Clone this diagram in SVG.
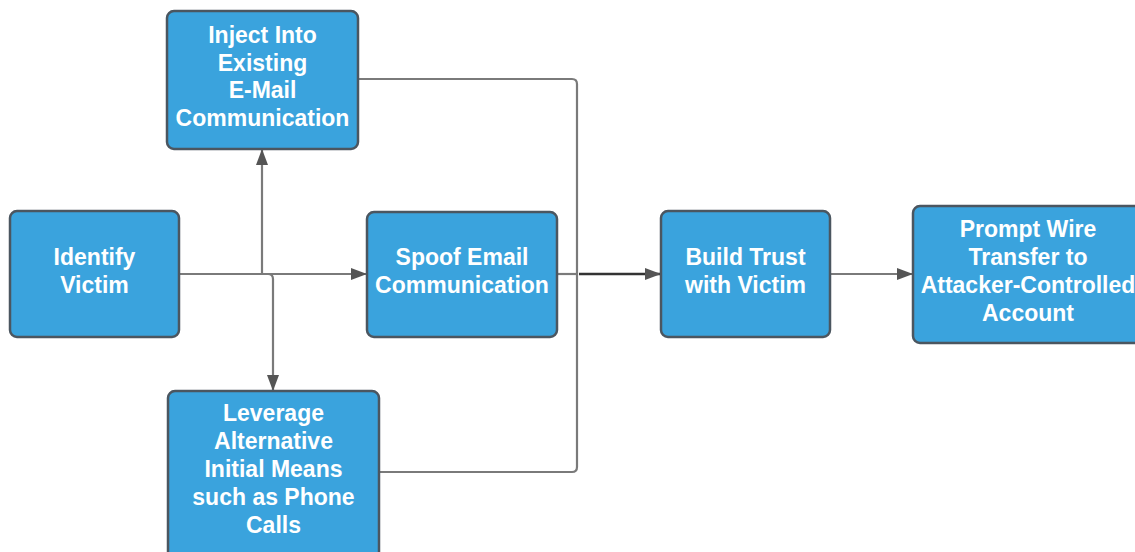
<svg xmlns="http://www.w3.org/2000/svg" width="1135" height="552" viewBox="0 0 1135 552">
<defs>
<style>
.box{fill:#3aa3dd;stroke:#4b5660;stroke-width:2.5}
.t{font-family:"Liberation Sans",Arial,sans-serif;font-weight:bold;font-size:23px;fill:#ffffff;text-anchor:middle}
.c{fill:none;stroke:#7a7a7a;stroke-width:2.2}
.cd{fill:none;stroke:#333333;stroke-width:2.6}
</style>
<marker id="ahL" viewBox="0 0 10 10" refX="10" refY="5" markerWidth="16" markerHeight="12" markerUnits="userSpaceOnUse" orient="auto" preserveAspectRatio="none">
<path d="M0,0 L10,5 L0,10 z" fill="#555555"/>
</marker>
</defs>
<rect width="1135" height="552" fill="#ffffff"/>
<g id="connectors">
<path class="c" d="M179,274 H367" marker-end="url(#ahL)"/>
<path class="c" d="M262,274 V149" marker-end="url(#ahL)"/>
<path class="c" d="M262,274 H268 Q273,274 273,279 V391" marker-end="url(#ahL)"/>
<path class="c" d="M358,79 H572 Q577,79 577,84 V467 Q577,472 572,472 H379"/>
<path class="c" d="M557,274 H577"/>
<path class="cd" d="M579,274 H661" marker-end="url(#ahL)"/>
<path class="c" d="M830,274 H913" marker-end="url(#ahL)"/>
</g>
<g id="identify">
<rect class="box" x="10" y="211" width="169" height="126" rx="7"/>
<text class="t" x="94.5" y="265">Identify</text>
<text class="t" x="94.5" y="293">Victim</text>
</g>
<g id="inject">
<rect class="box" x="167" y="11" width="191" height="138" rx="7"/>
<text class="t" x="262.5" y="43">Inject Into</text>
<text class="t" x="262.5" y="71">Existing</text>
<text class="t" x="262.5" y="98">E-Mail</text>
<text class="t" x="262.5" y="126">Communication</text>
</g>
<g id="spoof">
<rect class="box" x="367" y="212" width="190" height="125" rx="7"/>
<text class="t" x="462" y="265">Spoof Email</text>
<text class="t" x="462" y="293">Communication</text>
</g>
<g id="leverage">
<rect class="box" x="168" y="391" width="211" height="175" rx="7"/>
<text class="t" x="273.5" y="421">Leverage</text>
<text class="t" x="273.5" y="449">Alternative</text>
<text class="t" x="273.5" y="477">Initial Means</text>
<text class="t" x="273.5" y="505">such as Phone</text>
<text class="t" x="273.5" y="533">Calls</text>
</g>
<g id="trust">
<rect class="box" x="661" y="211" width="169" height="126" rx="7"/>
<text class="t" x="745.5" y="265">Build Trust</text>
<text class="t" x="745.5" y="293">with Victim</text>
</g>
<g id="prompt">
<rect class="box" x="913" y="206" width="232" height="137" rx="7"/>
<text class="t" x="1028" y="237">Prompt Wire</text>
<text class="t" x="1028" y="265">Transfer to</text>
<text class="t" x="1028" y="293">Attacker-Controlled</text>
<text class="t" x="1028" y="321">Account</text>
</g>
</svg>
